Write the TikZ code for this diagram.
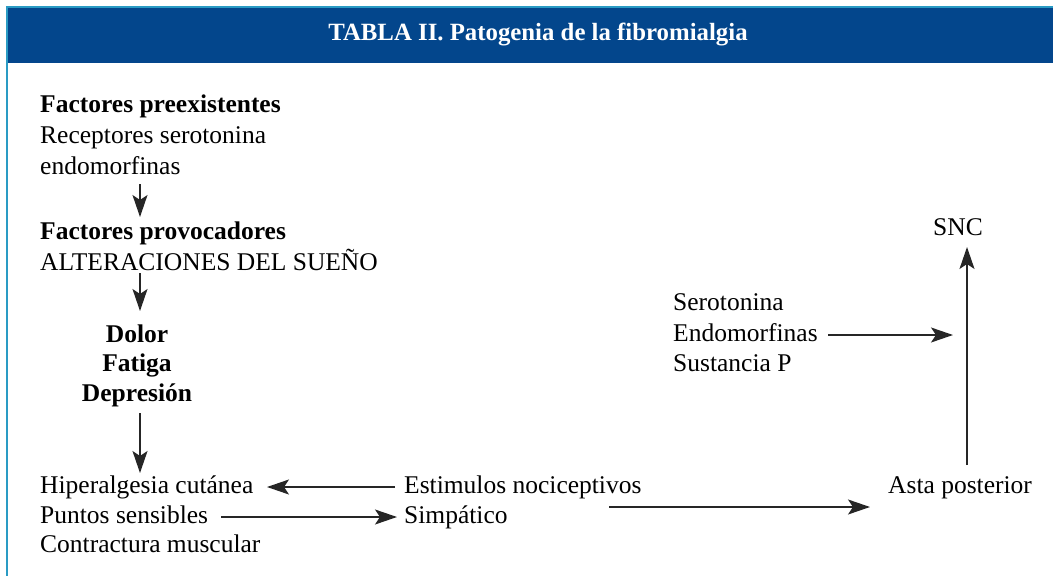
\documentclass[tikz,border=0pt]{standalone}
\usepackage{fontspec}
\setmainfont{Liberation Serif}
\usetikzlibrary{arrows.meta}
\definecolor{hdrblue}{HTML}{03468C}
\definecolor{edgeblue}{HTML}{2A9BC4}
\begin{document}
\begin{tikzpicture}[x=1pt,y=-1pt,
  txt/.style={anchor=base west, inner sep=0pt, font=\fontsize{25.5}{30.5}\selectfont},
  btxt/.style={txt, font=\fontsize{25.5}{30.5}\selectfont\bfseries},
  ctxt/.style={btxt, anchor=base},
  arr/.style={draw=black!85, line width=1.6pt, -{Stealth[length=22pt,width=15pt,inset=5pt]}}
]
\useasboundingbox (0,0) rectangle (1053,576);
% frame and header
\fill[hdrblue] (7,7) rectangle (1053,63);
\draw[edgeblue, line width=1.1pt] (7,576) -- (7,7) -- (1053,7);
\node[inner sep=0pt, text=white, font=\fontsize{24.8}{28}\selectfont\bfseries] (title) at (538,35) {TABLA II. Patogenia de la fibromialgia};

% left column
\node[btxt] (fpre) at (40,112) {Factores preexistentes};
\node[txt] (rec) at (40,143) {Receptores serotonina};
\node[txt] (endo) at (40,174) {endomorfinas};
\node[btxt] (fprov) at (40,239) {Factores provocadores};
\node[txt] (alt) at (40,270) {ALTERACIONES DEL SUEÑO};
\node[ctxt] (dolor) at (137,342) {Dolor};
\node[ctxt] (fat) at (137,371) {Fatiga};
\node[ctxt] (dep) at (137,401) {Depresión};
\node[txt] (hip) at (40,493) {Hiperalgesia cutánea};
\node[txt] (pun) at (40,523) {Puntos sensibles};
\node[txt] (con) at (40,552) {Contractura muscular};

% middle
\node[txt] (est) at (404,493) {Estimulos nociceptivos};
\node[txt] (sim) at (404,523) {Simpático};

% right
\node[txt] (sero) at (673,310) {Serotonina};
\node[txt] (endm) at (673,341) {Endomorfinas};
\node[txt] (sus) at (673,371) {Sustancia P};
\node[txt] (asta) at (888,493) {Asta posterior};
\node[txt, anchor=base] (snc) at (958,235) {SNC};

\coordinate (ax) at (140,0);
\coordinate (vx) at (967,0);
\coordinate (lowstart) at (609,507);

% connectors
\draw[arr] ([yshift=-10pt]endo.base -| ax) -- ([yshift=22pt]fprov.base -| ax);
\draw[arr] ([yshift=-3pt]alt.base -| ax) -- ([yshift=31pt]dolor.base -| ax);
\draw[arr] ([yshift=-12pt]dep.base -| ax) -- ([yshift=20pt]hip.base -| ax);
\draw[arr] ([xshift=-9pt,yshift=6pt]est.base west) -- ([xshift=-137pt,yshift=6pt]est.base west);
\draw[arr] ([xshift=-183pt,yshift=6pt]sim.base west) -- ([xshift=-7pt,yshift=6pt]sim.base west);
\draw[arr] (lowstart) -- ([xshift=-18pt]lowstart -| asta.base west);
\draw[arr] ([yshift=28pt]asta.base -| vx) -- ([yshift=-12pt]snc.base -| vx);
\draw[arr] ([xshift=155pt,yshift=6pt]endm.base west) -- ([xshift=-14pt,yshift=6pt]endm.base west -| vx);
\end{tikzpicture}
\end{document}
